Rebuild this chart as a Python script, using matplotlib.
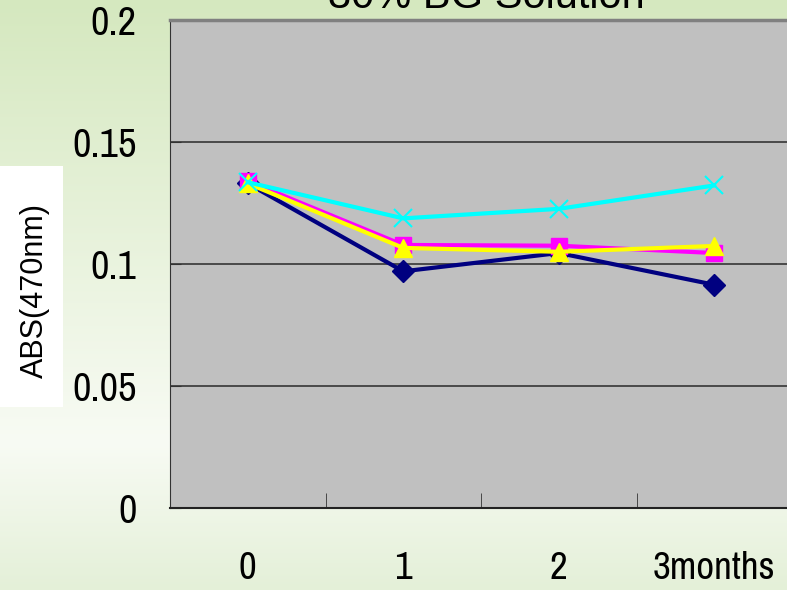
import matplotlib
matplotlib.use('Agg')
import matplotlib.pyplot as plt
from matplotlib import font_manager as fm
from matplotlib.colors import to_rgb
from matplotlib.patches import Rectangle
import numpy as np

categories = ['0', '1', '2', '3months']
navy_vals = [0.133, 0.097, 0.1045, 0.0915]
magenta_vals = [0.134, 0.1078, 0.1075, 0.1045]
yellow_vals = [0.133, 0.1066, 0.105, 0.1074]
cyan_vals = [0.1335, 0.1187, 0.1226, 0.1322]

# pick a narrow face for the ticks if one is installed
installed = {f.name for f in fm.fontManager.ttflist}
narrow_pref = ['Liberation Sans Narrow', 'Arial Narrow', 'Archivo Narrow', 'PT Sans Narrow',
               'Roboto Condensed', 'Fira Sans Condensed', 'IBM Plex Sans Condensed',
               'Encode Sans Condensed', 'Asap Condensed', 'Barlow Semi Condensed']
narrow = [f for f in narrow_pref if f in installed][:1]
NARROW = narrow + ['DejaVu Sans']
SANS = [f for f in ['Liberation Sans', 'Arimo'] if f in installed][:1] + ['DejaVu Sans']

fig = plt.figure(figsize=(7.87, 5.9), dpi=100)

# background gradient
bg = fig.add_axes([0, 0, 1, 1], zorder=-10)
stops_y = np.array([0.0, 0.75, 1.0])
stops_c = np.array([to_rgb('#d5e8bf'), to_rgb('#f8fbf4'), to_rgb('#e4f0d8')])
yy = np.linspace(0, 1, 590)
grad = np.stack([np.interp(yy, stops_y, stops_c[:, k]) for k in range(3)], axis=1)
bg.imshow(grad[:, None, :], aspect='auto', extent=[0, 1, 1, 0])
bg.set_xlim(0, 1)
bg.set_ylim(1, 0)
bg.axis('off')
bg.add_patch(Rectangle((0, 166 / 590), 63 / 787, 241 / 590, facecolor='white', edgecolor='none'))

ax = fig.add_axes([170 / 787, 82 / 590, 622 / 787, 488 / 590])
ax.set_facecolor('#c0c0c0')
x = np.arange(len(categories))

ax.plot(x, navy_vals, color='#000080', lw=3, marker='D', ms=11, zorder=3, clip_on=False)
ax.plot(x, magenta_vals, color='#ff00ff', lw=3, marker='s', ms=11, zorder=4, clip_on=False)
ax.plot(x, yellow_vals, color='#ffff00', lw=3, marker='^', ms=13, zorder=5, clip_on=False)
ax.plot(x, cyan_vals, color='#00ffff', lw=3, marker='x', ms=13, mew=1.5, zorder=6, clip_on=False)

ax.set_xlim(-0.5, 3.5)
ax.set_ylim(0, 0.2)
ax.set_yticks([0, 0.05, 0.1, 0.15, 0.2])
ax.set_yticklabels(['0', '0.05', '0.1', '0.15', '0.2'], family=NARROW, fontsize=29,
                   fontstretch='condensed')
ax.set_xticks(x)
ax.set_xticklabels(categories, family=NARROW, fontsize=28, fontstretch='condensed')
ax.set_xticks([0.5, 1.5, 2.5], minor=True)
ax.tick_params(axis='x', which='major', length=0, pad=31)
ax.tick_params(axis='x', which='minor', direction='in', length=11, color='#333333')
ax.tick_params(axis='y', direction='in', length=8, color='#333333', pad=24)

ax.grid(axis='y', color='#404040', lw=1.3)
ax.set_axisbelow(True)
ax.spines['top'].set_color('#808080')
ax.spines['top'].set_linewidth(2.5)
ax.spines['left'].set_color('#333333')
ax.spines['bottom'].set_color('#222222')
ax.spines['bottom'].set_linewidth(1.5)
ax.spines['right'].set_visible(False)

fig.text(35 / 787, 1 - 290 / 590, 'ABS(470nm)', rotation=90, ha='center', va='center',
         family=SANS, fontsize=22)

fig.text(486 / 787, 1 - 8 / 590, '30% BG Solution', ha='center', va='baseline',
         family=SANS, fontsize=30)

fig.savefig('out.png', dpi=100)
